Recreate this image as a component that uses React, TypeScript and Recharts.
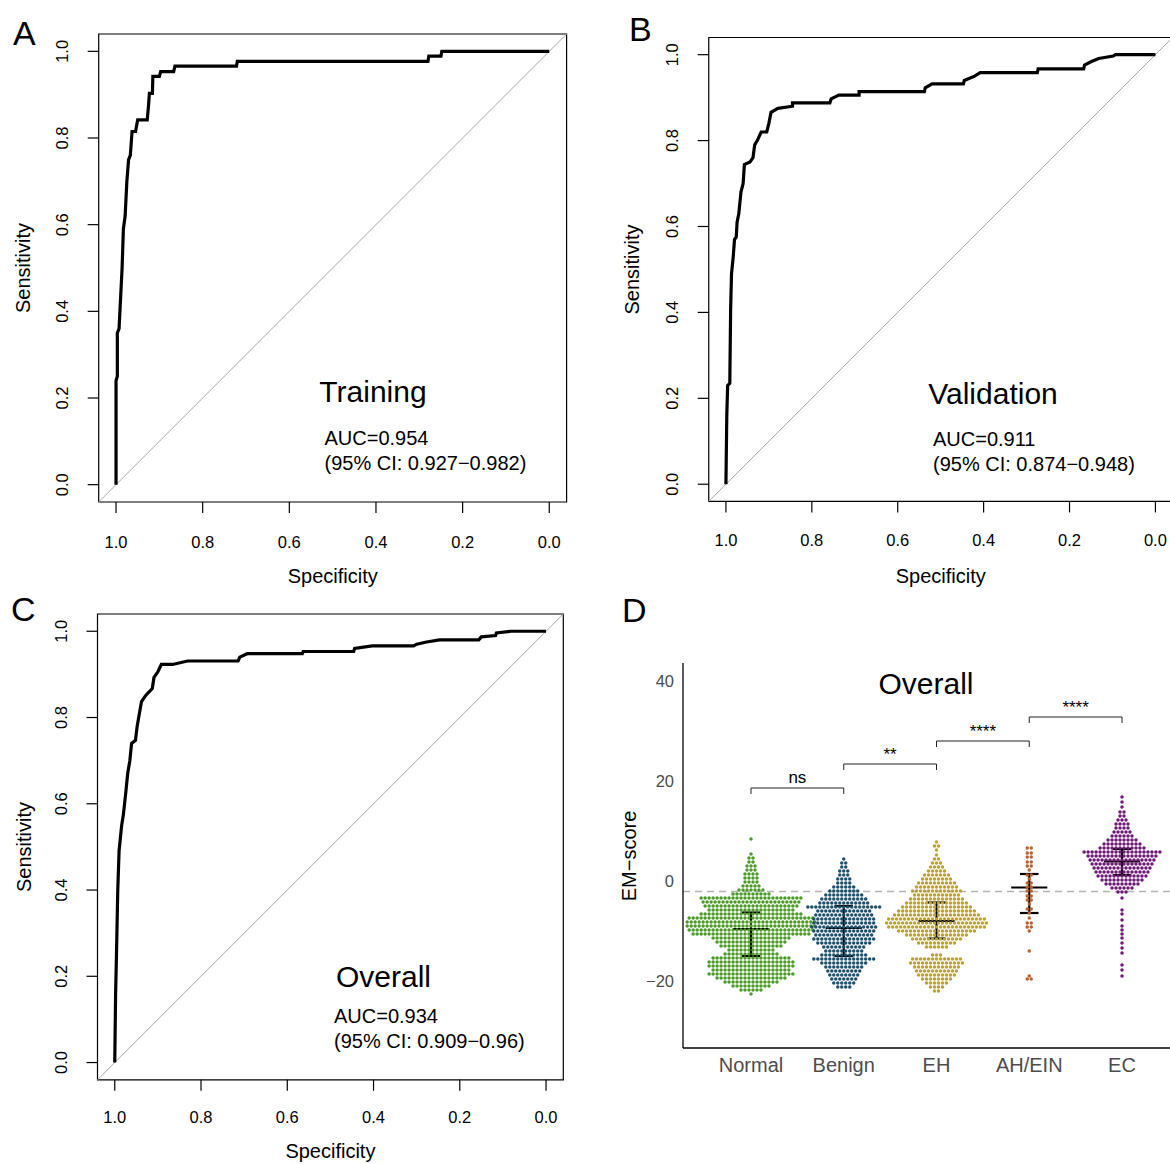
import React from 'react'
import {
  ComposedChart,
  Line,
  LineChart,
  ReferenceArea,
  ReferenceDot,
  ReferenceLine,
  Scatter,
  XAxis,
  YAxis,
} from 'recharts'

const FONT = '"Liberation Sans", Arial, Helvetica, sans-serif'

// ROC curves as [specificity, sensitivity]
const trainingRoc = [
  [1, 0], [1, 0.24], [0.997, 0.25], [0.997, 0.35], [0.993, 0.36], [0.99, 0.42], [0.986, 0.5],
  [0.983, 0.59], [0.979, 0.62], [0.975, 0.7], [0.971, 0.75], [0.967, 0.76], [0.963, 0.815],
  [0.955, 0.815], [0.95, 0.842], [0.928, 0.842], [0.925, 0.875], [0.923, 0.903], [0.916, 0.903],
  [0.915, 0.942], [0.9, 0.942], [0.897, 0.953], [0.867, 0.953], [0.864, 0.966], [0.722, 0.966],
  [0.72, 0.977], [0.28, 0.977], [0.278, 0.989], [0.25, 0.989], [0.248, 1], [0, 1],
]
const validationRoc = [
  [1, 0], [0.998, 0.16], [0.996, 0.23], [0.991, 0.235], [0.989, 0.41], [0.987, 0.49], [0.983, 0.53],
  [0.98, 0.57], [0.976, 0.575], [0.974, 0.61], [0.97, 0.63], [0.965, 0.68], [0.96, 0.7], [0.957, 0.744],
  [0.944, 0.75], [0.937, 0.76], [0.933, 0.79], [0.927, 0.8], [0.918, 0.82], [0.905, 0.82], [0.9, 0.84],
  [0.895, 0.866], [0.879, 0.875], [0.845, 0.88], [0.845, 0.888], [0.758, 0.888], [0.755, 0.897],
  [0.737, 0.906], [0.69, 0.906], [0.69, 0.914], [0.538, 0.914], [0.536, 0.923], [0.52, 0.932],
  [0.447, 0.932], [0.445, 0.94], [0.421, 0.95], [0.408, 0.958], [0.275, 0.958], [0.273, 0.967],
  [0.167, 0.967], [0.165, 0.976], [0.149, 0.984], [0.132, 0.991], [0.098, 0.997], [0.093, 1], [0, 1],
]
const overallRoc = [
  [1, 0], [0.998, 0.16], [0.996, 0.25], [0.993, 0.4], [0.99, 0.49], [0.984, 0.55], [0.98, 0.575],
  [0.974, 0.63], [0.97, 0.67], [0.965, 0.7], [0.961, 0.74], [0.952, 0.747], [0.948, 0.78],
  [0.944, 0.803], [0.938, 0.837], [0.929, 0.85], [0.922, 0.858], [0.913, 0.867], [0.909, 0.893],
  [0.9, 0.906], [0.892, 0.923], [0.866, 0.923], [0.831, 0.931], [0.714, 0.931], [0.71, 0.94],
  [0.693, 0.948], [0.565, 0.948], [0.563, 0.953], [0.446, 0.953], [0.444, 0.96], [0.403, 0.966],
  [0.307, 0.966], [0.3, 0.97], [0.277, 0.975], [0.247, 0.98], [0.156, 0.98], [0.15, 0.987],
  [0.117, 0.99], [0.115, 0.996], [0.082, 1], [0, 1],
]
const rocTicks = [1, 0.8, 0.6, 0.4, 0.2, 0]

// EM-score swarm, rows of [score, dots in the row]
const normalRows = [
  [8.4, 1], [5.4, 1], [4.6, 2], [3.8, 2], [3.0, 3], [2.2, 3], [1.4, 4], [0.6, 4], [-0.2, 4], [-1.0, 5],
  [-1.8, 7], [-2.6, 10], [-3.4, 26], [-4.2, 25], [-5.0, 24], [-5.8, 22], [-6.6, 26], [-7.4, 32],
  [-8.2, 33], [-9.0, 33], [-9.8, 32], [-10.6, 30], [-11.4, 20], [-12.2, 18], [-13.0, 16], [-13.8, 12],
  [-14.6, 14], [-15.4, 20], [-16.2, 22], [-17.0, 22], [-17.8, 20], [-18.6, 22], [-19.4, 18],
  [-20.2, 14], [-21.0, 10], [-21.8, 6], [-22.6, 1],
]
const benignRows = [
  [4.4, 1], [3.6, 2], [2.8, 2], [2.0, 3], [1.2, 3], [0.4, 4], [-0.4, 4], [-1.2, 6], [-2.0, 8],
  [-2.8, 10], [-3.6, 12], [-4.4, 13], [-5.2, 19], [-6.0, 14], [-6.8, 15], [-7.6, 16], [-8.4, 16],
  [-9.2, 17], [-10.0, 16], [-10.8, 15], [-11.6, 16], [-12.4, 14], [-13.2, 11], [-14.0, 10],
  [-14.8, 12], [-15.6, 16], [-16.4, 12], [-17.2, 10], [-18.0, 9], [-18.8, 8], [-19.6, 7],
  [-20.4, 6], [-21.2, 4],
]
const ehRows = [
  [7.8, 1], [7.0, 2], [6.2, 1], [5.2, 1], [4.4, 2], [3.6, 3], [2.8, 4], [2.0, 5], [1.2, 7], [0.4, 8],
  [-0.4, 10], [-1.2, 11], [-2.0, 13], [-2.8, 12], [-3.6, 14], [-4.4, 16], [-5.2, 18], [-6.0, 20],
  [-6.8, 22], [-7.6, 25], [-8.4, 26], [-9.2, 25], [-10.0, 20], [-10.8, 16], [-11.6, 13], [-12.4, 10],
  [-13.2, 6], [-14.8, 3], [-15.6, 13], [-16.4, 14], [-17.2, 12], [-18.0, 11], [-18.8, 10],
  [-19.6, 8], [-20.4, 6], [-21.2, 4], [-22.0, 2],
]
const ahRows = [
  [6.6, 2], [5.6, 2], [4.8, 2], [3.8, 2], [3.0, 2], [2.2, 1], [1.2, 2], [0.4, 1], [-0.4, 2], [-1.2, 2],
  [-2.0, 2], [-3.0, 2], [-3.8, 2], [-4.6, 1], [-5.6, 2], [-6.4, 1], [-7.4, 1], [-8.4, 2], [-9.2, 2],
  [-10.0, 1], [-14.0, 1], [-19.0, 1], [-19.6, 2],
]
const ecRows = [
  [16.8, 1], [15.8, 1], [14.8, 1], [13.8, 2], [13.0, 2], [12.2, 3], [11.4, 4], [10.6, 4], [9.8, 5],
  [9.0, 6], [8.2, 8], [7.4, 10], [6.6, 12], [5.8, 20], [5.0, 18], [4.2, 17], [3.4, 16], [2.6, 15],
  [1.8, 14], [1.0, 13], [0.2, 11], [-0.6, 9], [-1.4, 6], [-2.2, 3], [-3.4, 1], [-5.8, 1], [-6.6, 1],
  [-7.8, 1], [-9.0, 1], [-9.8, 1], [-10.6, 1], [-11.4, 1], [-12.4, 1], [-13.4, 1], [-14.4, 1],
  [-16.8, 1], [-17.8, 1], [-19.0, 1],
]
const groups = ['Normal', 'Benign', 'EH', 'AH/EIN', 'EC']
const groupRows = [normalRows, benignRows, ehRows, ahRows, ecRows]
const groupColors = ['#4c9a28', '#1e506e', '#b8a42e', '#be5f28', '#6e1978']
const medians = [-9.6, -9.4, -8.0, -1.3, 3.9]
const lowerQ = [-15.0, -15.0, -11.5, -6.4, 1.2]
const upperQ = [-6.3, -5.0, -4.3, 1.4, 6.4]
const cutoff = -2.1
const sigLabels = ['ns', '**', '****', '****']
const sigHeights = [18.6, 23.4, 28.0, 32.8]

const DOT_STEP = 0.043 // horizontal spacing of swarm dots, in group units

function swarm(rows: number[][], center: number) {
  const pts: { x: number; y: number }[] = []
  rows.forEach(([y, n]) => {
    for (let k = 0; k < n; k++) pts.push({ x: center + (k - (n - 1) / 2) * DOT_STEP, y })
  })
  return pts
}

const minus = (v: number) => (v < 0 ? `\u2212${Math.abs(v)}` : `${v}`)

const RotTick = (props: any) => {
  const { x, y, payload } = props
  return (
    <text x={x} y={y} transform={`rotate(-90 ${x} ${y})`} textAnchor="middle" fontSize={16.5} fontFamily={FONT} fill="#000">
      {Number(payload.value).toFixed(1)}
    </text>
  )
}

type Box = { l: number; t: number; r: number; b: number }

function RocPanel({ left, top, width, height, box, data, labelGap }: {
  left: number; top: number; width: number; height: number; box: Box; data: number[][]; labelGap: number
}) {
  const rows = data.map(([x, y]) => ({ x, y }))
  return (
    <div style={{ position: 'absolute', left, top }}>
      <LineChart
        width={width}
        height={height}
        data={rows}
        margin={{ top: box.t, left: box.l - 60, right: width - box.r, bottom: height - box.b - 60 }}
      >
        <XAxis
          type="number"
          dataKey="x"
          domain={[-0.04, 1.04]}
          reversed
          allowDataOverflow
          ticks={rocTicks}
          interval={0}
          tickFormatter={(v: number) => v.toFixed(1)}
          axisLine={false}
          tickSize={11}
          tickMargin={labelGap}
          height={60}
          tick={{ fontSize: 16.5, fill: '#000', fontFamily: FONT }}
          tickLine={{ stroke: '#000', strokeWidth: 1.2 }}
        />
        <YAxis
          type="number"
          dataKey="y"
          domain={[-0.04, 1.04]}
          allowDataOverflow
          ticks={rocTicks}
          interval={0}
          width={60}
          axisLine={false}
          tickSize={11}
          tickMargin={19.5}
          tick={<RotTick />}
          tickLine={{ stroke: '#000', strokeWidth: 1.2 }}
        />
        <ReferenceArea x1={-0.04} x2={1.04} y1={-0.04} y2={1.04} fill="none" stroke="#000" strokeWidth={1.2} ifOverflow="visible" />
        <ReferenceLine segment={[{ x: 1.04, y: -0.04 }, { x: -0.04, y: 1.04 }]} stroke="#a8a8a8" strokeWidth={1} ifOverflow="visible" />
        <Line dataKey="y" type="linear" stroke="#000" strokeWidth={3.2} dot={false} isAnimationActive={false} />
      </LineChart>
    </div>
  )
}

function SwarmPanel() {
  const dot = (color: string) => (p: any) => <circle cx={p.cx} cy={p.cy} r={1.75} fill={color} />
  return (
    <div style={{ position: 'absolute', left: 600, top: 590 }}>
      <ComposedChart width={600} height={520} margin={{ top: 73, left: 43, right: 10, bottom: 22 }}>
        <XAxis
          type="number"
          dataKey="x"
          domain={[0.267, 5.733]}
          allowDataOverflow
          ticks={[1, 2, 3, 4, 5]}
          interval={0}
          tickFormatter={(i: number) => groups[i - 1]}
          tickLine={false}
          tickSize={0}
          tickMargin={10}
          height={40}
          axisLine={{ stroke: '#000', strokeWidth: 1.3 }}
          tick={{ fontSize: 20, fill: '#4d4d4d', fontFamily: FONT }}
        />
        <YAxis
          type="number"
          dataKey="y"
          domain={[-33.4, 43.6]}
          allowDataOverflow
          ticks={[-20, 0, 20, 40]}
          interval={0}
          tickFormatter={minus}
          tickLine={false}
          tickSize={0}
          tickMargin={9}
          width={40}
          axisLine={{ stroke: '#000', strokeWidth: 1.3 }}
          tick={{ fontSize: 16.5, fill: '#4d4d4d', fontFamily: FONT }}
        />
        {groupRows.map((rows, i) => (
          <Scatter
            key={groups[i]}
            data={swarm(rows, i + 1)}
            fill={groupColors[i]}
            shape={dot(groupColors[i])}
            isAnimationActive={false}
          />
        ))}
        <ReferenceLine y={cutoff} stroke="#b3b3b3" strokeWidth={1.6} strokeDasharray="7 5" />
        {groups.map((g, i) => (
          <React.Fragment key={`eb-${g}`}>
            <ReferenceLine segment={[{ x: i + 1, y: lowerQ[i] }, { x: i + 1, y: upperQ[i] }]} stroke="#000" strokeWidth={2.2} />
            <ReferenceLine segment={[{ x: i + 0.9, y: lowerQ[i] }, { x: i + 1.1, y: lowerQ[i] }]} stroke="#000" strokeWidth={2.2} />
            <ReferenceLine segment={[{ x: i + 0.9, y: upperQ[i] }, { x: i + 1.1, y: upperQ[i] }]} stroke="#000" strokeWidth={2.2} />
            <ReferenceLine segment={[{ x: i + 0.805, y: medians[i] }, { x: i + 1.195, y: medians[i] }]} stroke="#000" strokeWidth={2.2} />
          </React.Fragment>
        ))}
        {sigLabels.map((s, i) => (
          <React.Fragment key={`sig-${i}`}>
            <ReferenceLine segment={[{ x: i + 1, y: sigHeights[i] }, { x: i + 2, y: sigHeights[i] }]} stroke="#222" strokeWidth={1} />
            <ReferenceLine segment={[{ x: i + 1, y: sigHeights[i] - 1.2 }, { x: i + 1, y: sigHeights[i] }]} stroke="#222" strokeWidth={1} />
            <ReferenceLine segment={[{ x: i + 2, y: sigHeights[i] - 1.2 }, { x: i + 2, y: sigHeights[i] }]} stroke="#222" strokeWidth={1} />
            <ReferenceDot
              x={i + 1.5}
              y={sigHeights[i]}
              r={0.01}
              fill="none"
              stroke="none"
              label={{ value: s, position: 'top', offset: s === 'ns' ? 5 : 4, fontSize: 17, fill: '#000', fontFamily: FONT }}
            />
          </React.Fragment>
        ))}
      </ComposedChart>
    </div>
  )
}

function Texts() {
  const t = (x: number, y: number, size: number, text: string, anchor = 'middle', rotate = false) => (
    <text
      key={`${text}-${x}-${y}`}
      x={x}
      y={y}
      fontSize={size}
      fontFamily={FONT}
      fill="#000"
      textAnchor={anchor}
      transform={rotate ? `rotate(-90 ${x} ${y})` : undefined}
    >
      {text}
    </text>
  )
  return (
    <svg width={1170} height={1164} style={{ position: 'absolute', left: 0, top: 0, pointerEvents: 'none' }}>
      {t(13, 45, 34, 'A', 'start')}
      {t(629, 41, 34, 'B', 'start')}
      {t(11, 621, 34, 'C', 'start')}
      {t(622, 622, 34, 'D', 'start')}

      {t(332.7, 582.5, 20, 'Specificity')}
      {t(30, 268, 20, 'Sensitivity', 'middle', true)}
      {t(373, 402, 30, 'Training')}
      {t(324.5, 444.5, 20, 'AUC=0.954', 'start')}
      {t(324.5, 469.5, 20, '(95% CI: 0.927\u22120.982)', 'start')}

      {t(940.7, 583, 20, 'Specificity')}
      {t(639, 269.5, 20, 'Sensitivity', 'middle', true)}
      {t(993, 404, 30, 'Validation')}
      {t(933, 445.5, 20, 'AUC=0.911', 'start')}
      {t(933, 470.5, 20, '(95% CI: 0.874\u22120.948)', 'start')}

      {t(330.4, 1158, 20, 'Specificity')}
      {t(31, 847, 20, 'Sensitivity', 'middle', true)}
      {t(383.5, 987, 30, 'Overall')}
      {t(334, 1022.5, 20, 'AUC=0.934', 'start')}
      {t(334, 1047.5, 20, '(95% CI: 0.909\u22120.96)', 'start')}

      {t(926, 694, 30, 'Overall')}
      {t(636, 856, 20, 'EM\u2212score', 'middle', true)}
    </svg>
  )
}

export default function App() {
  return (
    <div style={{ position: 'absolute', left: 0, top: 0, width: 1170, height: 1164, overflow: 'hidden', background: '#fff' }}>
      <RocPanel left={0} top={0} width={585} height={585} box={{ l: 98.7, t: 34, r: 566.6, b: 502 }} data={trainingRoc} labelGap={23} />
      <RocPanel left={585} top={0} width={600} height={585} box={{ l: 123.75, t: 37.5, r: 587.6, b: 501.4 }} data={validationRoc} labelGap={22} />
      <RocPanel left={0} top={585} width={585} height={579} box={{ l: 97.5, t: 29, r: 563.3, b: 494.8 }} data={overallRoc} labelGap={20.5} />
      <SwarmPanel />
      <Texts />
    </div>
  )
}
